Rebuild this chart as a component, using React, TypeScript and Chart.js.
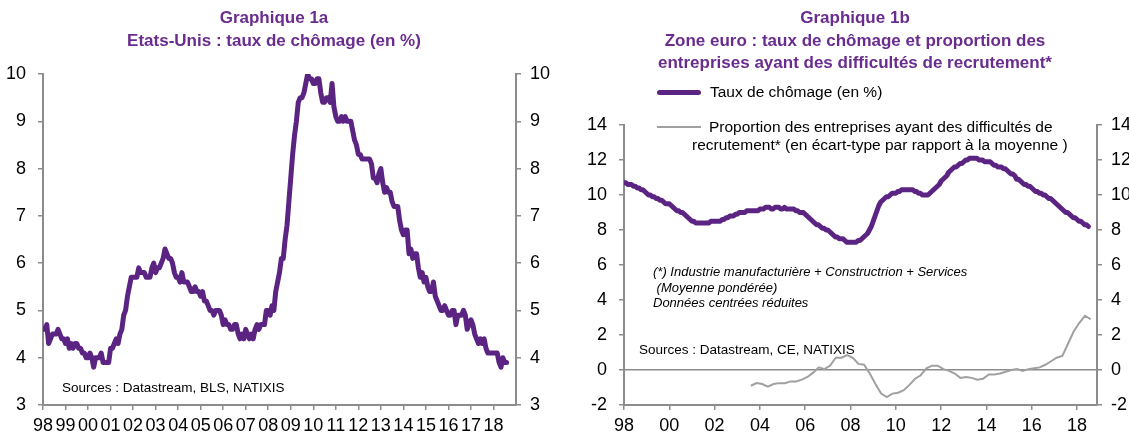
import React, { useEffect, useRef } from "react";
import { Chart, registerables } from "chart.js";

Chart.register(...registerables);

const FONT = '"Liberation Sans", Arial, Helvetica, sans-serif';
const PURPLE = "#5b2483";
const TITLE_COLOR = "#6a2c8e";
const AXIS = "#8c8c8c";
const GRAY = "#a0a0a0";

// ---------- Graphique 1a : Etats-Unis, taux de chômage (mensuel, janv. 1998 -> août 2018)
const usStartYear = 1998;
const usUnemployment = [
  4.6, 4.6, 4.7, 4.3, 4.4, 4.5, 4.5, 4.5, 4.6, 4.5, 4.4, 4.4, // 1998
  4.3, 4.4, 4.2, 4.3, 4.2, 4.3, 4.3, 4.2, 4.2, 4.1, 4.1, 4.0, // 1999
  4.0, 4.1, 4.0, 3.8, 4.0, 4.0, 4.0, 4.1, 3.9, 3.9, 3.9, 3.9, // 2000
  4.2, 4.2, 4.3, 4.4, 4.3, 4.5, 4.6, 4.9, 5.0, 5.3, 5.5, 5.7, // 2001
  5.7, 5.7, 5.7, 5.9, 5.8, 5.8, 5.8, 5.7, 5.7, 5.7, 5.9, 6.0, // 2002
  5.8, 5.9, 5.9, 6.0, 6.1, 6.3, 6.2, 6.1, 6.1, 6.0, 5.8, 5.7, // 2003
  5.7, 5.6, 5.8, 5.6, 5.6, 5.6, 5.5, 5.4, 5.4, 5.5, 5.4, 5.4, // 2004
  5.3, 5.4, 5.2, 5.2, 5.1, 5.0, 5.0, 4.9, 5.0, 5.0, 5.0, 4.9, // 2005
  4.7, 4.8, 4.7, 4.7, 4.6, 4.6, 4.7, 4.7, 4.5, 4.4, 4.5, 4.4, // 2006
  4.6, 4.5, 4.4, 4.5, 4.4, 4.6, 4.7, 4.6, 4.7, 4.7, 4.7, 5.0, // 2007
  5.0, 4.9, 5.1, 5.0, 5.4, 5.6, 5.8, 6.1, 6.1, 6.5, 6.8, 7.3, // 2008
  7.8, 8.3, 8.7, 9.0, 9.4, 9.5, 9.5, 9.6, 9.8, 10.0, 9.9, 9.9, // 2009
  9.8, 9.8, 9.9, 9.9, 9.6, 9.4, 9.4, 9.5, 9.5, 9.4, 9.8, 9.3, // 2010
  9.1, 9.0, 9.0, 9.1, 9.0, 9.1, 9.0, 9.0, 9.0, 8.8, 8.6, 8.5, // 2011
  8.3, 8.3, 8.2, 8.2, 8.2, 8.2, 8.2, 8.1, 7.8, 7.8, 7.7, 7.9, // 2012
  8.0, 7.7, 7.5, 7.6, 7.5, 7.5, 7.3, 7.2, 7.2, 7.2, 6.9, 6.7, // 2013
  6.6, 6.7, 6.7, 6.2, 6.3, 6.1, 6.2, 6.2, 5.9, 5.7, 5.8, 5.6, // 2014
  5.7, 5.5, 5.4, 5.4, 5.6, 5.3, 5.2, 5.1, 5.0, 5.0, 5.1, 5.0, // 2015
  4.9, 4.9, 5.0, 5.0, 4.7, 4.9, 4.9, 4.9, 5.0, 4.9, 4.6, 4.7, // 2016
  4.8, 4.7, 4.5, 4.4, 4.3, 4.4, 4.3, 4.4, 4.2, 4.1, 4.1, 4.1, // 2017
  4.1, 4.1, 4.1, 3.9, 3.8, 4.0, 3.9, 3.9, // 2018
];
const usYearTicks = [
  1998, 1999, 2000, 2001, 2002, 2003, 2004, 2005, 2006, 2007, 2008,
  2009, 2010, 2011, 2012, 2013, 2014, 2015, 2016, 2017, 2018,
];
const usYMin = 3;
const usYMax = 10;

// ---------- Graphique 1b : Zone euro (mensuel, janv. 1998 -> juil. 2018)
const ezStartYear = 1998;
const ezUnemployment = [
  10.7, 10.7, 10.6, 10.6, 10.6, 10.5, 10.5, 10.4, 10.4, 10.3, 10.3, 10.2, // 1998
  10.1, 10.0, 10.0, 9.9, 9.9, 9.8, 9.8, 9.7, 9.7, 9.6, 9.5, 9.5, // 1999
  9.5, 9.4, 9.3, 9.2, 9.1, 9.1, 9.0, 9.0, 8.9, 8.8, 8.7, 8.6, // 2000
  8.5, 8.5, 8.4, 8.4, 8.4, 8.4, 8.4, 8.4, 8.4, 8.4, 8.5, 8.5, // 2001
  8.5, 8.5, 8.5, 8.5, 8.6, 8.6, 8.7, 8.7, 8.8, 8.8, 8.8, 8.9, // 2002
  8.9, 9.0, 9.0, 9.0, 9.0, 9.1, 9.1, 9.1, 9.1, 9.1, 9.1, 9.1, // 2003
  9.2, 9.2, 9.2, 9.3, 9.3, 9.3, 9.2, 9.2, 9.3, 9.3, 9.3, 9.2, // 2004
  9.2, 9.3, 9.2, 9.2, 9.2, 9.2, 9.2, 9.1, 9.1, 9.0, 9.0, 9.0, // 2005
  8.9, 8.8, 8.7, 8.6, 8.5, 8.4, 8.3, 8.3, 8.2, 8.1, 8.1, 8.0, // 2006
  8.0, 7.9, 7.8, 7.7, 7.6, 7.6, 7.5, 7.5, 7.5, 7.4, 7.3, 7.3, // 2007
  7.3, 7.3, 7.3, 7.3, 7.4, 7.4, 7.5, 7.6, 7.7, 7.8, 8.0, 8.2, // 2008
  8.5, 8.8, 9.1, 9.4, 9.6, 9.7, 9.8, 9.9, 9.9, 10.0, 10.1, 10.1, // 2009
  10.1, 10.2, 10.2, 10.3, 10.3, 10.3, 10.3, 10.3, 10.3, 10.3, 10.2, 10.2, // 2010
  10.1, 10.1, 10.0, 10.0, 10.0, 10.0, 10.1, 10.2, 10.3, 10.4, 10.5, 10.6, // 2011
  10.8, 10.9, 11.0, 11.1, 11.3, 11.4, 11.5, 11.6, 11.6, 11.7, 11.8, 11.8, // 2012
  11.9, 12.0, 12.0, 12.1, 12.1, 12.1, 12.1, 12.1, 12.0, 12.0, 12.0, 11.9, // 2013
  11.9, 11.9, 11.9, 11.8, 11.7, 11.7, 11.6, 11.6, 11.6, 11.5, 11.5, 11.4, // 2014
  11.3, 11.2, 11.2, 11.1, 10.9, 10.9, 10.8, 10.7, 10.6, 10.6, 10.5, 10.5, // 2015
  10.4, 10.3, 10.2, 10.2, 10.1, 10.1, 10.0, 10.0, 9.9, 9.8, 9.8, 9.7, // 2016
  9.6, 9.5, 9.4, 9.3, 9.2, 9.1, 9.0, 9.0, 8.9, 8.8, 8.7, 8.7, // 2017
  8.6, 8.5, 8.5, 8.4, 8.3, 8.3, 8.2, // 2018
];
// Proportion des entreprises ayant des difficultés de recrutement (trimestriel)
const recruitDates = [
  2003.6, 2003.85, 2004.1, 2004.35, 2004.6, 2004.85, 2005.1, 2005.35, 2005.6, 2005.85,
  2006.1, 2006.35, 2006.6, 2006.85, 2007.1, 2007.35, 2007.6, 2007.85, 2008.1, 2008.35,
  2008.6, 2008.85, 2009.1, 2009.35, 2009.6, 2009.85, 2010.1, 2010.35, 2010.6, 2010.85,
  2011.1, 2011.35, 2011.6, 2011.85, 2012.1, 2012.35, 2012.6, 2012.85, 2013.1, 2013.35,
  2013.6, 2013.85, 2014.1, 2014.35, 2014.6, 2014.85, 2015.1, 2015.35, 2015.6, 2015.85,
  2016.1, 2016.35, 2016.6, 2016.85, 2017.1, 2017.35, 2017.6, 2017.85, 2018.1, 2018.35,
  2018.6,
];
const recruitValues = [
  -0.9, -0.75, -0.8, -0.95, -0.8, -0.75, -0.75, -0.65, -0.65, -0.55,
  -0.4, -0.15, 0.15, 0.05, 0.25, 0.7, 0.7, 0.85, 0.7, 0.35,
  0.3, -0.2, -0.8, -1.35, -1.55, -1.35, -1.3, -1.15, -0.85, -0.5,
  -0.3, 0.1, 0.25, 0.25, 0.05, -0.05, -0.2, -0.45, -0.4, -0.45,
  -0.55, -0.5, -0.25, -0.25, -0.2, -0.1, 0.0, 0.05, -0.05, 0.05,
  0.1, 0.15, 0.3, 0.5, 0.7, 0.8, 1.5, 2.2, 2.7, 3.1,
  2.9,
];
const ezYearTicks = [1998, 2000, 2002, 2004, 2006, 2008, 2010, 2012, 2014, 2016, 2018];
const ezYMin = -2;
const ezYMax = 14;

const yearLabel = (v: any) => {
  const n = Math.round(Number(v)) % 100;
  return n < 10 ? "0" + n : String(n);
};

const tickFont = { family: FONT, size: 18 };

function yAxis(position: "left" | "right", min: number, max: number, step: number, width: number, padding: number, zeroLine = false) {
  return {
    type: "linear",
    position,
    min,
    max,
    afterFit: (s: any) => {
      s.width = width;
    },
    ticks: { stepSize: step, padding, font: tickFont, color: "#000" },
    grid: {
      drawOnChartArea: zeroLine,
      color: (ctx: any) => (ctx.tick && ctx.tick.value === 0 ? AXIS : "rgba(0,0,0,0)"),
      tickColor: AXIS,
      tickLength: 5,
      lineWidth: 1.5,
    },
    border: { color: AXIS, width: 2 },
  };
}

function xAxis(min: number, max: number, ticksList: number[]) {
  return {
    type: "linear",
    min,
    max,
    afterBuildTicks: (s: any) => {
      s.ticks = ticksList.map((v) => ({ value: v }));
    },
    afterFit: (s: any) => {
      s.height = 27;
    },
    ticks: { autoSkip: false, maxRotation: 0, padding: 5.5, font: tickFont, color: "#000", callback: yearLabel },
    grid: { drawOnChartArea: false, tickColor: AXIS, tickLength: 5, lineWidth: 1.5 },
    border: { color: AXIS, width: 2 },
  };
}

function UsChart() {
  const ref = useRef<HTMLCanvasElement>(null);
  useEffect(() => {
    if (!ref.current) return;
    const chart = new Chart(ref.current, {
      type: "line",
      data: {
        datasets: [
          {
            data: usUnemployment.map((v, i) => ({ x: usStartYear + i / 12, y: v })),
            borderColor: PURPLE,
            borderWidth: 5,
            pointRadius: 0,
            tension: 0,
            borderJoinStyle: "round",
            borderCapStyle: "round",
          },
        ],
      },
      options: {
        animation: false,
        responsive: false,
        events: [],
        layout: { padding: { top: 74, left: 0, right: 0, bottom: 0 } },
        plugins: { legend: { display: false }, tooltip: { enabled: false } },
        scales: {
          x: xAxis(1998, 2019, usYearTicks),
          y: yAxis("left", usYMin, usYMax, 1, 43, 12),
          y2: yAxis("right", usYMin, usYMax, 1, 44, 9),
        },
      } as any,
    } as any);
    return () => chart.destroy();
  }, []);
  return <canvas ref={ref} width={560} height={432} style={{ width: 560, height: 432, display: "block" }} />;
}

function EzChart() {
  const ref = useRef<HTMLCanvasElement>(null);
  useEffect(() => {
    if (!ref.current) return;
    const chart = new Chart(ref.current, {
      type: "line",
      data: {
        datasets: [
          {
            data: recruitDates.map((d, i) => ({ x: d, y: recruitValues[i] })),
            borderColor: GRAY,
            borderWidth: 2,
            pointRadius: 0,
            tension: 0,
          },
          {
            data: ezUnemployment.map((v, i) => ({ x: ezStartYear + i / 12, y: v })),
            borderColor: PURPLE,
            borderWidth: 5,
            pointRadius: 0,
            tension: 0,
            borderJoinStyle: "round",
            borderCapStyle: "round",
          },
        ],
      },
      options: {
        animation: false,
        responsive: false,
        events: [],
        layout: { padding: { top: 125, left: 0, right: 0, bottom: 0 } },
        plugins: { legend: { display: false }, tooltip: { enabled: false } },
        scales: {
          x: xAxis(1998, 2018.88, ezYearTicks),
          y: yAxis("left", ezYMin, ezYMax, 2, 64, 12, true),
          y2: yAxis("right", ezYMin, ezYMax, 2, 63, 9),
        },
      } as any,
    } as any);
    return () => chart.destroy();
  }, []);
  return <canvas ref={ref} width={600} height={432} style={{ width: 600, height: 432, display: "block" }} />;
}

const abs = (style: React.CSSProperties): React.CSSProperties => ({
  position: "absolute",
  fontFamily: FONT,
  whiteSpace: "pre",
  margin: 0,
  ...style,
});

export default function App() {
  const titleStyle: React.CSSProperties = {
    fontWeight: "bold",
    fontSize: 17,
    lineHeight: "22.5px",
    color: TITLE_COLOR,
    textAlign: "center",
  };
  const legendText: React.CSSProperties = { fontSize: 15.5, lineHeight: "18px", color: "#000" };
  const noteText: React.CSSProperties = { fontSize: 13, lineHeight: "15.5px", fontStyle: "italic", color: "#000" };
  const srcText: React.CSSProperties = { fontSize: 13.5, lineHeight: "16px", color: "#000" };
  return (
    <div
      style={{
        position: "fixed",
        left: 0,
        top: 0,
        width: 1129,
        height: 432,
        overflow: "hidden",
        background: "#fff",
      }}
    >
      <div style={{ position: "absolute", left: 0, top: 0 }}>
        <UsChart />
      </div>
      <div style={{ position: "absolute", left: 560, top: 0 }}>
        <EzChart />
      </div>

      <div style={abs({ ...titleStyle, left: 0, width: 548, top: 7 })}>
        {"Graphique 1a\nEtats-Unis : taux de chômage (en %)"}
      </div>
      <div style={abs({ ...titleStyle, left: 555, width: 600, top: 7 })}>
        {"Graphique 1b\nZone euro : taux de chômage et proportion des\nentreprises ayant des difficultés de recrutement*"}
      </div>

      <div style={{ position: "absolute", left: 657, top: 89.5, width: 44, height: 5, borderRadius: 2.5, background: PURPLE }} />
      <div style={abs({ ...legendText, left: 710, top: 83 })}>Taux de chômage (en %)</div>
      <div style={{ position: "absolute", left: 657, top: 126, width: 44, height: 2, background: GRAY }} />
      <div style={abs({ ...legendText, left: 709, top: 118 })}>Proportion des entreprises ayant des difficultés de</div>
      <div style={abs({ ...legendText, left: 692, top: 136 })}>recrutement* (en écart-type par rapport à la moyenne )</div>

      <div style={abs({ ...noteText, left: 653, top: 264 })}>
        {"(*) Industrie manufacturière + Constructrion + Services\n (Moyenne pondérée)\nDonnées centrées réduites"}
      </div>
      <div style={abs({ ...srcText, left: 639, top: 342 })}>Sources : Datastream, CE, NATIXIS</div>
      <div style={abs({ ...srcText, left: 62, top: 380 })}>Sources : Datastream, BLS, NATIXIS</div>
    </div>
  );
}
